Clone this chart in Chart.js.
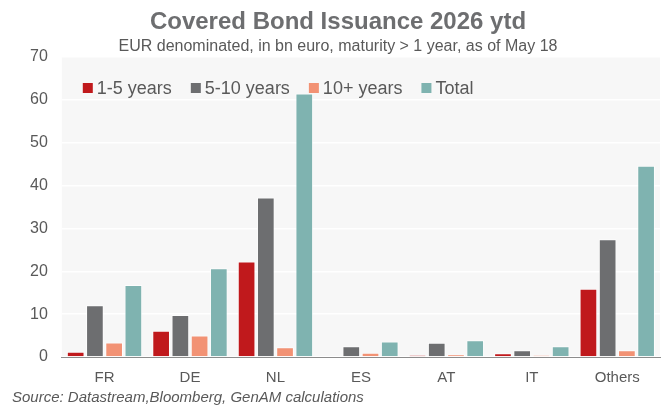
<!DOCTYPE html>
<html>
<head>
<meta charset="utf-8">
<script src="https://cdn.jsdelivr.net/npm/chart.js@4"></script>
<style>
  html, body { margin: 0; padding: 0; background: #fff; }
  #wrap { width: 667px; height: 408px; position: relative; }
</style>
</head>
<body>
<div id="wrap"><canvas id="chart__issuance"></canvas></div>
<script>
const countries = ['FR', 'DE', 'NL', 'ES', 'AT', 'IT', 'Others'];
const short = [1.2, 6.1, 22.3, 0, 0.4, 0.9, 15.9];       // 1-5 years
const mid = [12.1, 9.8, 37.2, 2.5, 3.3, 1.6, 27.5];       // 5-10 years
const long = [3.4, 5.0, 2.3, 1.0, 0.6, 0.4, 1.6];         // 10+ years
const total = [16.8, 20.7, 61.5, 3.6, 3.9, 2.5, 44.6];    // Total
const yTicks = [0, 10, 20, 30, 40, 50, 60, 70];

const font = "'Liberation Sans', Arial, sans-serif";

const series = [
    { label: '1-5 years', data: short, color: '#c0191c' },
    { label: '5-10 years', data: mid, color: '#6d6e70' },
    { label: '10+ years', data: long, color: '#f29274' },
    { label: 'Total', data: total, color: '#7fb3b0' }
];

const plotBackground = {
    id: 'plotBackground',
    beforeDraw(chart) {
        const { ctx, chartArea } = chart;
        ctx.save();
        ctx.fillStyle = '#f7f7f7';
        ctx.fillRect(chartArea.left, chartArea.top, chartArea.right - chartArea.left, chartArea.bottom - chartArea.top);
        ctx.restore();
    }
};

// legend in one row inside the plot, like the original
const rowLegend = {
    id: 'rowLegend',
    afterDraw(chart) {
        const { ctx, chartArea } = chart;
        ctx.save();
        ctx.font = "18px " + font;
        ctx.textBaseline = 'middle';
        let x = chartArea.left + 21;
        const y = chartArea.top + 31;
        series.forEach(s => {
            ctx.fillStyle = s.color;
            ctx.fillRect(x, y - 5, 10, 10);
            x += 14;
            ctx.fillStyle = '#595959';
            ctx.fillText(s.label, x, y + 1);
            x += ctx.measureText(s.label).width + 19;
        });
        ctx.restore();
    }
};

const sourceNote = {
    id: 'sourceNote',
    afterDraw(chart) {
        const ctx = chart.ctx;
        ctx.save();
        ctx.font = "italic 15px " + font;
        ctx.fillStyle = '#595959';
        ctx.textBaseline = 'middle';
        ctx.fillText('Source: Datastream,Bloomberg, GenAM calculations', 12, 398);
        ctx.restore();
    }
};

new Chart(document.getElementById('chart__issuance'), {
    type: 'bar',
    data: {
        labels: countries,
        datasets: series.map(s => ({
            label: s.label,
            data: s.data,
            backgroundColor: s.color,
            borderColor: 'rgba(255,255,255,0.7)',
            borderWidth: 1,
            categoryPercentage: 0.9,
            barPercentage: 0.92
        }))
    },
    options: {
        responsive: true,
        maintainAspectRatio: false,
        animation: false,
        layout: { padding: { left: 16, right: 7, top: 0, bottom: 17 } },
        plugins: {
            title: {
                display: true,
                text: 'Covered Bond Issuance 2026 ytd',
                color: '#6d6e70',
                font: { family: font, size: 24, weight: 'bold' },
                padding: { top: 8, bottom: 0 }
            },
            subtitle: {
                display: true,
                text: 'EUR denominated, in bn euro, maturity > 1 year, as of May 18',
                color: '#595959',
                font: { family: font, size: 16 },
                padding: { bottom: 1 }
            },
            legend: { display: false },
            tooltip: { enabled: false }
        },
        scales: {
            x: {
                grid: { display: false },
                border: { color: '#8c8c8c', width: 1 },
                ticks: { color: '#595959', font: { family: font, size: 15 }, padding: 4 }
            },
            y: {
                min: 0,
                max: 70,
                afterBuildTicks(axis) { axis.ticks = yTicks.map(v => ({ value: v })); },
                grid: { color: '#ffffff', lineWidth: 1.5, drawTicks: false },
                border: { display: false },
                ticks: { color: '#595959', font: { family: font, size: 16 }, padding: 14 }
            }
        }
    },
    plugins: [plotBackground, rowLegend, sourceNote]
});
</script>
</body>
</html>
